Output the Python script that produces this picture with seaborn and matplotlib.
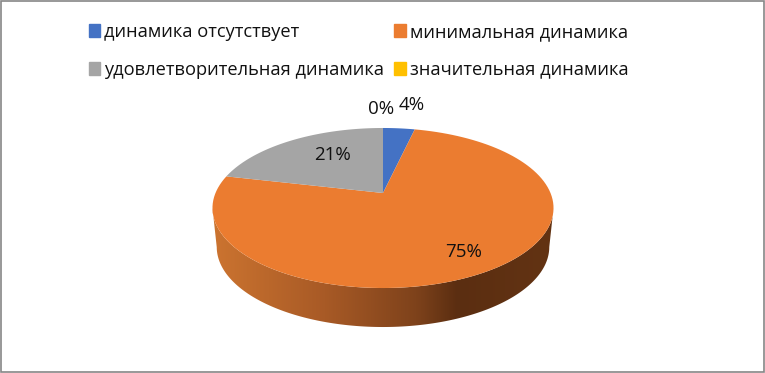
# plot.py
import numpy as np
import matplotlib
matplotlib.use("Agg")
import matplotlib.pyplot as plt
from matplotlib.patches import Patch, Polygon
from matplotlib.colors import LinearSegmentedColormap
import seaborn as sns

categories = ['динамика отсутствует', 'минимальная динамика',
              'удовлетворительная динамика', 'значительная динамика']
values = [3.6, 75.0, 21.4, 0.0]
colors = ['#4472C4', '#EB7C30', '#A5A5A5', '#FFC000']
side_colors = ['#CC7430', '#A85A26', '#7E421B', '#5B2E11', '#633313']

sns.set_theme(style='white')
plt.rcParams['font.family'] = ['Open Sans', 'DejaVu Sans']

# pie geometry in pixels (perspective projection of a circle)
cx, cy = 383, 193
ax_x, ax_y = 167.5, 77.2
k = 0.1875
depth = 39
shrink = 0.975


def project(t):
    # t = angle clockwise from the top, radians
    u, v = np.sin(t), np.cos(t)
    w = 1 + k * v
    return cx + ax_x * u / w, cy - ax_y * v / w


fig = plt.figure(figsize=(7.65, 3.73), dpi=100)
ax = fig.add_axes([0, 0, 1, 1])
ax.set_xlim(0, 765)
ax.set_ylim(373, 0)
ax.axis('off')

# side wall with horizontal shading, from one widest point to the other
t_front = np.linspace(np.pi * 0.5 + 0.19, np.pi * 1.5 - 0.19, 200)
xs, ys = project(t_front)
xb = cx + (xs - cx) * shrink
yb = ys + depth
wall = Polygon(np.r_[np.c_[xs, ys], np.c_[xb, yb][::-1]], closed=True,
               fc='none', ec='none')
ax.add_patch(wall)
cmap = LinearSegmentedColormap.from_list('side', list(zip([0, .33, .6, .72, 1], side_colors)))
im = ax.imshow(np.linspace(0, 1, 256)[None, :], cmap=cmap, aspect='auto',
               extent=[212, 553, 340, 190], zorder=1)
ax.set_xlim(0, 765)
ax.set_ylim(373, 0)
im.set_clip_path(wall)

# top face, clockwise from 12 o'clock
edges = np.r_[0, np.cumsum(values)] / np.sum(values) * 2 * np.pi
for i, c in enumerate(colors):
    if values[i] == 0:
        continue
    t = np.linspace(edges[i], edges[i + 1], 120)
    x, y = project(t)
    ax.fill(np.r_[cx, x], np.r_[cy, y], color=c, lw=0, zorder=2)

# data labels
label_pos = [(412, 105), (464, 252), (333, 155), (381, 109)]
for val, (lx, ly) in zip(values, label_pos):
    ax.text(lx, ly, f'{val:.0f}%', ha='center', va='center', fontsize=13.5,
            color='#111111', zorder=3)

# legend, matplotlib fills by column so reorder for row-wise reading
handles = [Patch(color=c) for c in colors]
order = [0, 2, 1, 3]
ax.legend([handles[i] for i in order], [categories[i] for i in order],
          ncol=2, loc='upper left',
          bbox_to_anchor=(89 / 765, 1 - 23 / 373), frameon=False, fontsize=13.15,
          handlelength=0.62, handleheight=0.7, handletextpad=0.22,
          columnspacing=0.55, labelspacing=1.08, borderpad=0, borderaxespad=0,
          labelcolor='#111111')

# chart frame
ax.add_patch(Polygon([(0.5, 0.5), (764.5, 0.5), (764.5, 371.5), (0.5, 371.5)],
                     closed=True, fc='none', ec='#868686', lw=1.2, zorder=5))

fig.savefig('out.png', dpi=100)
